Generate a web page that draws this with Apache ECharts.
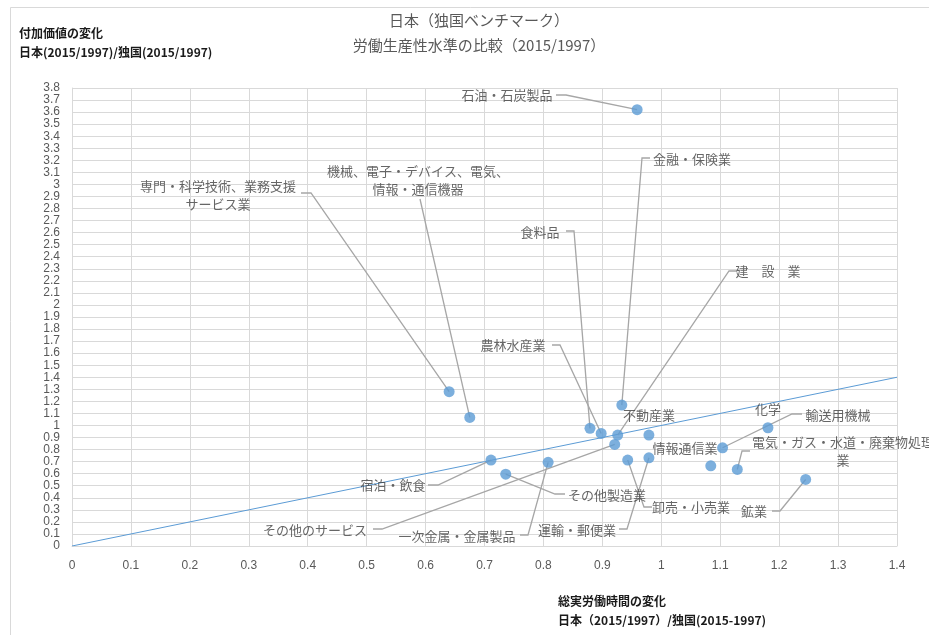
<!DOCTYPE html>
<html><head><meta charset="utf-8">
<script src="https://cdn.jsdelivr.net/npm/echarts@6/dist/echarts.min.js"></script>
<style>html,body{margin:0;padding:0;background:#fff}#c{width:929px;height:635px}</style>
</head><body><div id="c"></div>
<script>
// ---- data ----
const industries = [
  '石油・石炭製品', '専門・科学技術、業務支援サービス業', '機械、電子・デバイス、電気、情報・通信機器',
  '金融・保険業', '食料品', '建設業', '農林水産業', '不動産業', '化学', '輸送用機械', '情報通信業',
  '電気・ガス・水道・廃棄物処理業', '鉱業', '卸売・小売業', '運輸・郵便業', 'その他製造業',
  '一次金属・金属製品', 'その他のサービス', '宿泊・飲食'
];
const hoursRatio = [0.959, 0.640, 0.675, 0.933, 0.879, 0.926, 0.898, 0.979, 1.181, 1.104, 1.084,
  1.129, 1.245, 0.943, 0.979, 0.736, 0.808, 0.921, 0.711];
const valueAddedRatio = [3.62, 1.280, 1.067, 1.169, 0.976, 0.920, 0.934, 0.920, 0.981, 0.815, 0.665,
  0.635, 0.552, 0.713, 0.732, 0.596, 0.694, 0.843, 0.713];
const parityLineX = [0, 1.4];
const xRange = [0, 1.4];
const yRange = [0, 3.8];
const tickStep = 0.1;

// ---- label display text (line breaks / spacing as in the original) ----
const labelText = {
  1: '専門・科学技術、業務支援\nサービス業',
  2: '機械、電子・デバイス、電気、\n情報・通信機器',
  5: '建　設　業',
  11: '電気・ガス・水道・廃棄物処理\n業'
};
// ---- label placement (pixel centres) and leader start/elbow (style only) ----
const labelPlace = [
  [507,95],[218,195],[418,180],[692,159],[540,232],[768,271],[513,345],[649,415],[768,409],
  [838,415],[685,448],[843,451],[754,511],[691,507],[577,530],[607,495],[457,536],[315,530],[393,485]
];
const leaderStyle = [
  [556,95,10,0],[301,193,10,0],[420,199,0,0],[650,158,-8,0],[566,231,8,0],[737,271,-8,0],
  [552,345,8,0], null, null, [802,414,-10,0], null, [750,451,-8,0], [772,511,8,0],
  [652,507,-8,0],[619,529,8,0],[565,494,-10,0],[520,535,8,0],[373,529,9,0],[428,485,10,0]
];

const pts = hoursRatio.map((x, i) => [x, valueAddedRatio[i], industries[i]]);
const parity = parityLineX.map(v => [v, v]);

const numFont = "'Liberation Sans Narrow','Liberation Sans',sans-serif";
const jpFont = "'Noto Sans CJK JP','Noto Sans',sans-serif";

const chart = echarts.init(document.getElementById('c'), null, {renderer: 'canvas'});
chart.setOption({
  animation: false,
  backgroundColor: '#ffffff',
  title: [
    {
      text: '日本（独国ベンチマーク）\n労働生産性水準の比較（2015/1997）',
      left: 474, top: 3, textAlign: 'center',
      textStyle: {fontFamily: jpFont, fontSize: 15, fontWeight: 'normal', color: '#595959', lineHeight: 25}
    },
    {
      text: '付加価値の変化\n日本(2015/1997)/独国(2015/1997)',
      left: 14, top: 19,
      textStyle: {fontFamily: jpFont, fontSize: 12, fontWeight: 'bold', color: '#1a1a1a', lineHeight: 19}
    },
    {
      text: '総実労働時間の変化\n日本（2015/1997）/独国(2015-1997)',
      left: 553, top: 587,
      textStyle: {fontFamily: jpFont, fontSize: 12, fontWeight: 'bold', color: '#1a1a1a', lineHeight: 19}
    }
  ],
  graphic: [{
    type: 'rect', left: 8, top: 5, silent: true, z: -10,
    shape: {width: 940, height: 660},
    style: {fill: 'none', stroke: '#d9d9d9', lineWidth: 1}
  }],
  grid: {left: 72, right: 32, top: 88, bottom: 89, containLabel: false},
  xAxis: {
    type: 'value', min: xRange[0], max: xRange[1], interval: tickStep,
    axisLine: {show: true, lineStyle: {color: '#d9d9d9', width: 1}},
    axisTick: {show: false},
    splitLine: {show: true, lineStyle: {color: '#d9d9d9', width: 1}},
    axisLabel: {color: '#595959', fontSize: 12, fontFamily: numFont, margin: 14}
  },
  yAxis: {
    type: 'value', min: yRange[0], max: yRange[1], interval: tickStep,
    axisLine: {show: true, lineStyle: {color: '#d9d9d9', width: 1}},
    axisTick: {show: false},
    splitLine: {show: true, lineStyle: {color: '#d9d9d9', width: 1}},
    axisLabel: {color: '#595959', fontSize: 12, fontFamily: numFont, margin: 12, interval: 0}
  },
  series: [
    {
      type: 'line', data: parity, symbol: 'none', silent: true, z: 2,
      lineStyle: {color: '#5b9bd5', width: 1}
    },
    {
      type: 'custom', z: 3, silent: true, clip: false,
      data: pts,
      renderItem: function (params, api) {
        const s = leaderStyle[params.dataIndex];
        if (!s) return null;
        const p = api.coord([api.value(0), api.value(1)]);
        return {
          type: 'polyline',
          shape: {points: [[s[0], s[1]], [s[0] + s[2], s[1] + s[3]], p]},
          style: {stroke: '#a6a6a6', lineWidth: 1.3, fill: 'none'}
        };
      }
    },
    {
      type: 'scatter', z: 5, data: pts, symbolSize: 11,
      itemStyle: {color: '#5b9bd5'},
      label: {
        show: true, color: '#404040', fontSize: 13, fontFamily: jpFont, lineHeight: 18,
        formatter: p => labelText[p.dataIndex] || industries[p.dataIndex]
      },
      labelLayout: function (params) {
        const lp = labelPlace[params.dataIndex];
        return {x: lp[0], y: lp[1], align: 'center', verticalAlign: 'middle'};
      }
    }
  ]
});
</script></body></html>
